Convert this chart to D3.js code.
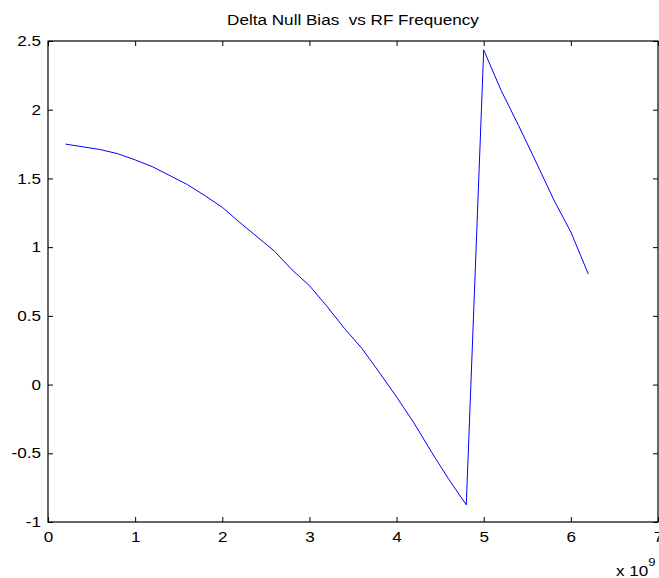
<!DOCTYPE html>
<html>
<head>
<meta charset="utf-8">
<script src="https://cdn.jsdelivr.net/npm/d3@7"></script>
<style>
  html, body { margin: 0; padding: 0; background: #fff; }
  svg { display: block; font-family: "Liberation Sans", Arial, sans-serif; }
  text { white-space: pre; }
</style>
</head>
<body>
<svg id="chart" width="659" height="578"></svg>
<script>
// RF frequency (in units of 1e9 Hz)
const freqGHz = [0.2, 0.4, 0.6, 0.8, 1.0, 1.2, 1.4, 1.6, 1.8, 2.0,
                 2.2, 2.4, 2.6, 2.8, 3.0, 3.2, 3.4, 3.6, 3.8, 4.0,
                 4.2, 4.4, 4.6, 4.8, 5.0, 5.2, 5.4, 5.6, 5.8, 6.0, 6.2];
// Delta null bias at each frequency
const deltaNullBias = [1.75, 1.73, 1.71, 1.68, 1.635, 1.585, 1.52, 1.455, 1.375, 1.29,
                       1.18, 1.075, 0.97, 0.835, 0.72, 0.57, 0.41, 0.265, 0.09, -0.09,
                       -0.28, -0.49, -0.69, -0.875, 2.435, 2.14, 1.885, 1.62, 1.35, 1.11, 0.805];
const xTicks = [0, 1, 2, 3, 4, 5, 6, 7];
const yTicks = [-1, -0.5, 0, 0.5, 1, 1.5, 2, 2.5];
const titleText = "Delta Null Bias  vs RF Frequency";

const svg = d3.select("#chart");
const plotLeft = 48, plotTop = 41, plotRight = 658, plotBottom = 522;

const x = d3.scaleLinear().domain([0, 7]).range([plotLeft, plotRight]);
const y = d3.scaleLinear().domain([-1, 2.5]).range([plotBottom, plotTop]);

const fontSize = 14.5;
const stretchX = 1.18;   // labels are set slightly wide
const tickLen = 5;

// widen a text element horizontally around its own anchor point
function widen(sel) {
  sel.each(function() {
    const t = d3.select(this);
    const tx = +t.attr("x") || 0, ty = +t.attr("y") || 0;
    t.attr("x", 0).attr("y", 0)
     .attr("transform", `translate(${tx},${ty}) scale(${stretchX},1)`);
  });
}

// data line
svg.append("path")
  .datum(freqGHz.map((f, i) => [f, deltaNullBias[i]]))
  .attr("fill", "none")
  .attr("stroke", "#0000ff")
  .attr("stroke-width", 1)
  .attr("d", d3.line().x(d => x(d[0])).y(d => y(d[1])));

// bottom axis with inward ticks
const xAxis = svg.append("g")
  .attr("transform", `translate(0,${plotBottom})`)
  .call(d3.axisBottom(x).tickValues(xTicks).tickSize(-tickLen).tickPadding(10).tickFormat(d3.format("d")));
// left axis with inward ticks
const yAxis = svg.append("g")
  .attr("transform", `translate(${plotLeft},0)`)
  .call(d3.axisLeft(y).tickValues(yTicks).tickSize(-tickLen).tickPadding(7).tickFormat(d => String(d)));
// top and right mirror axes (ticks only)
const xTop = svg.append("g")
  .attr("transform", `translate(0,${plotTop})`)
  .call(d3.axisTop(x).tickValues(xTicks).tickSize(-tickLen).tickFormat(""));
const yRight = svg.append("g")
  .attr("transform", `translate(${plotRight},0)`)
  .call(d3.axisRight(y).tickValues(yTicks).tickSize(-tickLen).tickFormat(""));

[xAxis, yAxis, xTop, yRight].forEach(g => {
  g.selectAll(".domain").remove();
  g.selectAll("line").attr("stroke", "#000").attr("stroke-width", 1);
  g.selectAll("text")
    .attr("fill", "#000")
    .style("font-size", fontSize + "px")
    .style("font-family", "'Liberation Sans', Arial, sans-serif");
});
widen(xAxis.selectAll("text"));
widen(yAxis.selectAll("text"));

// axes box
svg.append("rect")
  .attr("x", plotLeft).attr("y", plotTop)
  .attr("width", plotRight - plotLeft).attr("height", plotBottom - plotTop)
  .attr("fill", "none").attr("stroke", "#000").attr("stroke-width", 1.2);

// exponent label
const expo = svg.append("text")
  .attr("x", 616).attr("y", 576)
  .style("font-size", fontSize + "px")
  .attr("fill", "#000");
expo.append("tspan").text("x 10");
expo.append("tspan").attr("dy", -10).style("font-size", "11px").text("9");
widen(expo);

// title
const title = svg.append("text")
  .attr("x", (plotLeft + plotRight) / 2)
  .attr("y", 25)
  .attr("text-anchor", "middle")
  .style("font-size", fontSize + "px")
  .attr("fill", "#000")
  .text(titleText);
widen(title);
</script>
</body>
</html>
